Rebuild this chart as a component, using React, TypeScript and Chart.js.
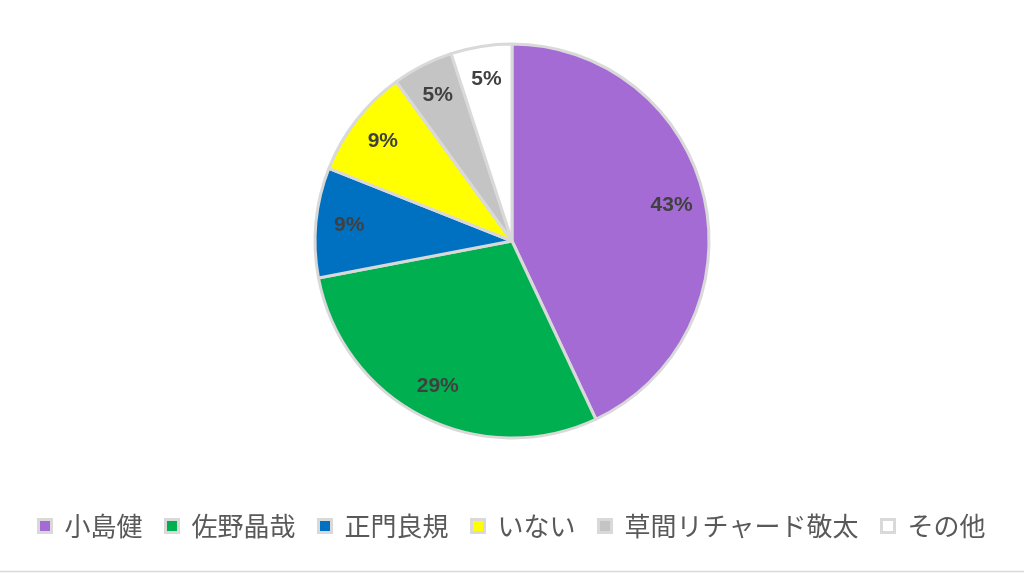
import { useEffect, useRef } from 'react';
import { Chart, registerables } from 'chart.js';

Chart.register(...registerables);

const names = ['小島健', '佐野晶哉', '正門良規', 'いない', '草間リチャード敬太', 'その他'];
const shares = [43, 29, 9, 9, 5, 5];
const sliceColors = ['#a56bd5', '#00b050', '#0070c0', '#ffff00', '#c4c4c4', '#ffffff'];

// draws the "43%" style labels inside each slice
const sliceLabels = {
  id: 'sliceLabels',
  afterDatasetsDraw(chart: any) {
    const { ctx } = chart;
    const meta = chart.getDatasetMeta(0);
    ctx.save();
    ctx.font = 'bold 21px "Liberation Sans", Arial, sans-serif';
    ctx.fillStyle = '#404040';
    ctx.textAlign = 'center';
    ctx.textBaseline = 'middle';
    meta.data.forEach((arc: any, i: number) => {
      const p = arc.getProps(['x', 'y', 'startAngle', 'endAngle', 'outerRadius'], true);
      const mid = (p.startAngle + p.endAngle) / 2;
      const r = p.outerRadius * 0.83;
      ctx.fillText(shares[i] + '%', p.x + Math.cos(mid) * r, p.y + Math.sin(mid) * r);
    });
    ctx.restore();
  }
};

// thin gray rule along the bottom edge
const bottomRule = {
  id: 'bottomRule',
  afterDraw(chart: any) {
    const { ctx, width, height } = chart;
    ctx.save();
    ctx.strokeStyle = '#d9d9d9';
    ctx.lineWidth = 1.5;
    ctx.beginPath();
    ctx.moveTo(0, height - 8.5);
    ctx.lineTo(width, height - 8.5);
    ctx.stroke();
    ctx.restore();
  }
};

export default function App() {
  const canvasRef = useRef<HTMLCanvasElement>(null);

  useEffect(() => {
    document.body.style.margin = '0';
    if (!canvasRef.current) return;
    const chart = new Chart(canvasRef.current, {
      type: 'pie',
      data: {
        labels: names,
        datasets: [{
          data: shares,
          backgroundColor: sliceColors,
          borderColor: '#d9d9d9',
          borderWidth: 3
        }]
      },
      options: {
        responsive: false,
        animation: false,
        radius: 197,
        layout: { padding: { top: 0, bottom: 31 } },
        plugins: {
          tooltip: { enabled: false },
          legend: {
            position: 'bottom',
            labels: {
              boxWidth: 13,
              boxHeight: 13,
              padding: 23,
              color: '#595959',
              font: { size: 26, family: '"Noto Sans CJK JP", sans-serif' }
            }
          }
        }
      },
      plugins: [sliceLabels, bottomRule]
    });
    return () => chart.destroy();
  }, []);

  return (
    <div style={{ width: 1024, height: 576, overflow: 'hidden', background: '#fff' }}>
      <canvas ref={canvasRef} width={1024} height={588} style={{ display: 'block', marginTop: -8 }} />
    </div>
  );
}
